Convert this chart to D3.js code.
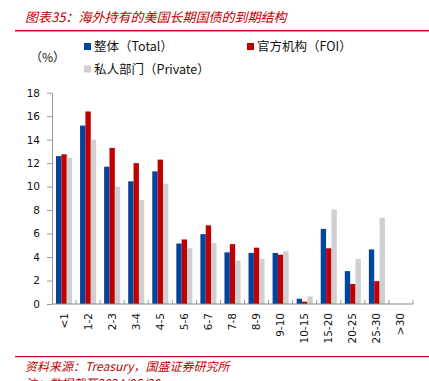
<!DOCTYPE html>
<html><head><meta charset="utf-8">
<script src="https://cdn.jsdelivr.net/npm/d3@7/dist/d3.min.js"></script>
<style>
html,body{margin:0;padding:0;background:#fff;}
svg{display:block;}
</style></head>
<body>
<svg id="c" width="429" height="381"></svg>
<script>
const categories = ["<1","1-2","2-3","3-4","4-5","5-6","6-7","7-8","8-9","9-10","10-15","15-20","20-25","25-30",">30"];
const totalVals   = [12.6,15.2,11.7,10.45,11.3,5.15,5.95,4.4,4.35,4.35,0.45,6.4,2.8,4.65,0];
const foiVals     = [12.75,16.4,13.3,12.0,12.3,5.5,6.7,5.1,4.8,4.2,0.2,4.75,1.7,1.95,0];
const privateVals = [12.45,14.0,10.0,8.85,10.25,4.75,5.2,3.7,3.85,4.5,0.65,8.05,3.85,7.35,0];
const seriesNames = ["整体（Total）","官方机构（FOI）","私人部门（Private）"];
const seriesColors = ["#00449e","#c00000","#d0d0d0"];
const yTicks = [0,2,4,6,8,10,12,14,16,18];
const titleText = "图表35：海外持有的美国长期国债的到期结构";
const sourceText = "资料来源：Treasury，国盛证券研究所";
const noteText = "注：数据截至2024/06/30";
const unitText = "（%）";

const seriesVals = [totalVals, foiVals, privateVals];
const svg = d3.select("#c");
const red = "#c00000";
const cjk = "'Noto Sans CJK SC','Noto Sans',sans-serif";

// title
svg.append("text").attr("x",25).attr("y",22).text(titleText)
  .attr("font-family",cjk).attr("font-size",13).attr("font-style","italic").attr("fill",red);
svg.append("line").attr("x1",15).attr("x2",429).attr("y1",30.7).attr("y2",30.7)
  .attr("stroke","#c8102e").attr("stroke-width",1.5);

// scales
const x = d3.scaleBand().domain(categories).range([52,413]).padding(0);
const sub = d3.scaleBand().domain(d3.range(3)).range([4, x.bandwidth()-4]).padding(0);
const y = d3.scaleLinear().domain([0,18]).range([304,92.7]);

// y axis
const yAxis = d3.axisLeft(y).tickValues(yTicks).tickSize(5).tickSizeOuter(0).tickPadding(7);
const gy = svg.append("g").attr("transform","translate(52,0)").call(yAxis);
gy.select(".domain").attr("stroke","#999");
gy.selectAll(".tick line").attr("stroke","#999");
gy.selectAll(".tick text").attr("font-family","'DejaVu Sans',sans-serif").attr("font-size",10.5).attr("fill","#111");

// bars
const g = svg.append("g");
categories.forEach((c,i)=>{
  seriesVals.forEach((vals,s)=>{
    const v = vals[i];
    if (v<=0) return;
    g.append("rect")
      .attr("x", x(c)+sub(s)).attr("width", sub.bandwidth())
      .attr("y", y(v)).attr("height", y(0)-y(v))
      .attr("fill", seriesColors[s]);
  });
});

// x axis
const gx = svg.append("g");
gx.append("line").attr("x1",52).attr("x2",413).attr("y1",y(0)).attr("y2",y(0)).attr("stroke","#888");
categories.forEach((c,i)=>{
  const bx = x(c)+x.bandwidth();
  gx.append("line").attr("x1",bx).attr("x2",bx).attr("y1",y(0)).attr("y2",y(0)-4).attr("stroke","#999");
  gx.append("text")
    .attr("transform",`translate(${x(c)+x.bandwidth()/2+3.5},${y(0)+9}) rotate(-90)`)
    .attr("text-anchor","end")
    .attr("font-family","'DejaVu Sans',sans-serif").attr("font-size",10.5).attr("fill","#111")
    .text(c);
});

// unit
svg.append("text").attr("x",30).attr("y",62).text(unitText)
  .attr("font-family",cjk).attr("font-size",12).attr("fill","#111");

// legend
const legPos = [[84,46.5],[247,46.5],[84,69]];
seriesNames.forEach((n,s)=>{
  const [lx,ly] = legPos[s];
  svg.append("rect").attr("x",lx).attr("y",ly-3.5).attr("width",7).attr("height",7).attr("fill",seriesColors[s]);
  svg.append("text").attr("x",lx+10).attr("y",ly+4.5).text(n)
    .attr("font-family",cjk).attr("font-size",12.5).attr("fill","#111");
});

// footer
svg.append("line").attr("x1",15).attr("x2",429).attr("y1",356.7).attr("y2",356.7)
  .attr("stroke","#c8102e").attr("stroke-width",1.2);
svg.append("text").attr("x",25).attr("y",371).text(sourceText)
  .attr("font-family",cjk).attr("font-size",12).attr("font-style","italic").attr("fill",red);
svg.append("text").attr("x",25).attr("y",388).text(noteText)
  .attr("font-family",cjk).attr("font-size",12).attr("font-style","italic").attr("fill",red);
</script>
</body></html>
